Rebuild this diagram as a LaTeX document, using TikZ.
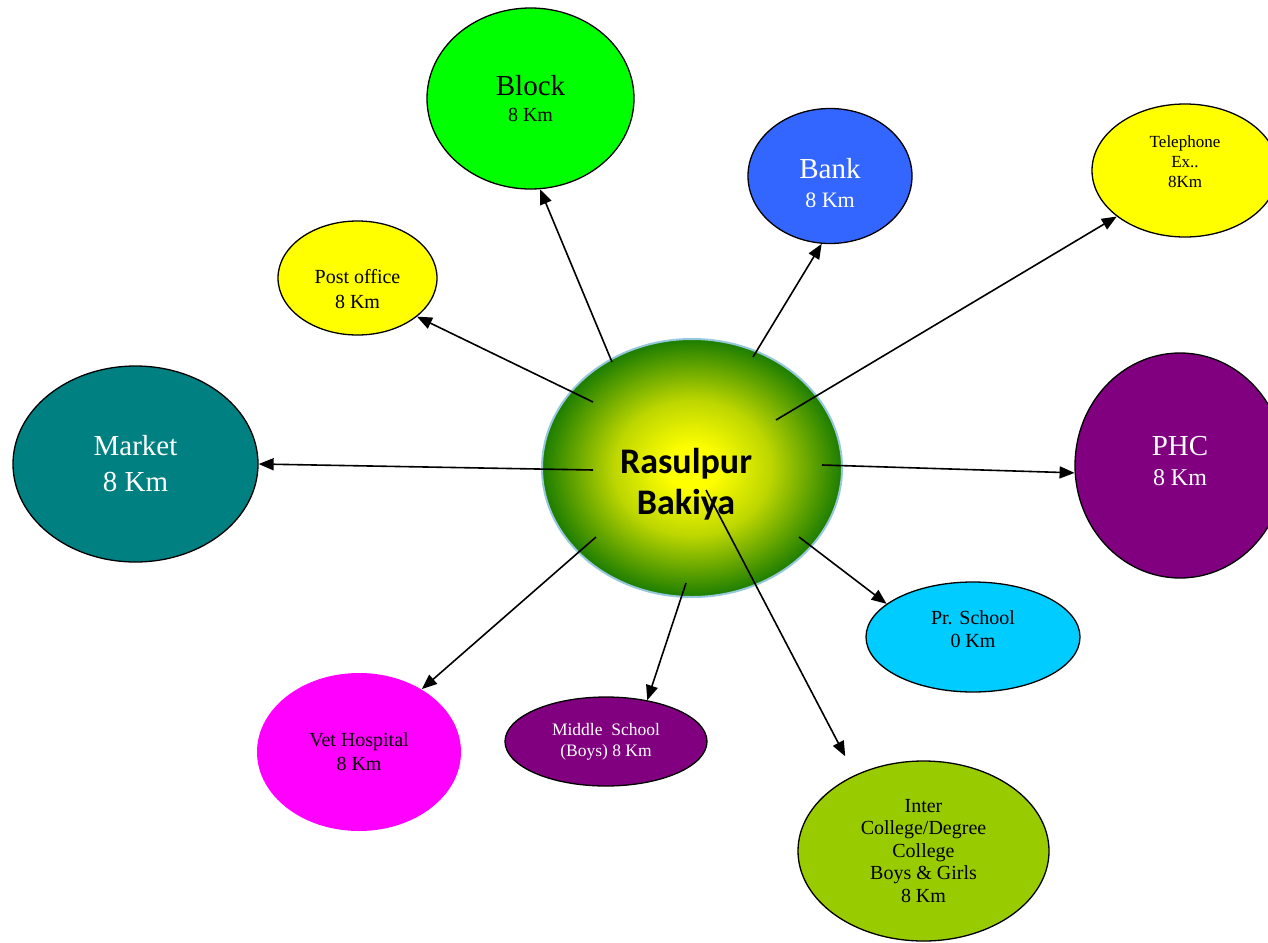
\documentclass[tikz,border=0pt]{standalone}
\usepackage{fontspec}
\setmainfont{Liberation Serif}
\newfontfamily\hubfont{Carlito}
\usetikzlibrary{arrows.meta,shapes.geometric}
\definecolor{Gr}{RGB}{0, 255, 0}
\definecolor{Bl}{RGB}{51, 102, 255}
\definecolor{Ye}{RGB}{255, 255, 0}
\definecolor{Te}{RGB}{0, 128, 128}
\definecolor{Pu}{RGB}{128, 0, 128}
\definecolor{Cy}{RGB}{0, 204, 255}
\definecolor{Ma}{RGB}{255, 0, 255}
\definecolor{Ol}{RGB}{153, 204, 0}
\definecolor{HubG}{RGB}{28, 125, 0}
\definecolor{HubM}{RGB}{190, 215, 0}
\definecolor{HubB}{RGB}{150, 200, 220}
\pgfdeclareradialshading{hubglow}{\pgfpoint{0bp}{0bp}}{color(0bp)=(Ye); color(4bp)=(Ye); color(13bp)=(HubM); color(25bp)=(HubG); color(50bp)=(HubG)}

\tikzset{
  place/.style={ellipse, draw=black, line width=1.3pt, inner sep=0pt, align=center,
    font=\fontsize{20}{24}\selectfont},
  hub/.style={ellipse, draw=HubB, line width=2pt, shading=hubglow, inner sep=0pt},
  link/.style={-{Triangle[length=15pt,width=12pt]}, line width=1.6pt},
}

\begin{document}
\begin{tikzpicture}[x=1pt,y=-1pt]
  \useasboundingbox (0,0) rectangle (1268,942);
  \clip (0,0) rectangle (1268,942);

  %# VILLAGE
  \node[hub, minimum width=300pt, minimum height=258pt] (hub) at (692,468) {};
  \node[align=center, font=\hubfont\bfseries\fontsize{36}{41}\selectfont] (hubname) at (686,484) {Rasulpur\\Bakiya};

  %# FACILITIES
  \node[place, fill=Gr, minimum width=207pt, minimum height=181pt, font=\fontsize{29}{26}\selectfont] (block) at (530.5,98.5)
    {Block\\\fontsize{20}{26}\selectfont 8 Km};
  \node[place, fill=Bl, text=white, minimum width=164pt, minimum height=135pt, font=\fontsize{29}{29}\selectfont,
    text height=62pt, text depth=0pt] (bank) at (830,176)
    {Bank\\\fontsize{22}{29}\selectfont 8 Km};
  \node[place, fill=Ye, minimum width=186pt, minimum height=133pt, font=\fontsize{17}{20}\selectfont,
    text depth=18pt] (tel) at (1185,170.5)
    {Telephone\\Ex..\\8Km};
  \node[place, fill=Ye, minimum width=159pt, minimum height=114pt, font=\fontsize{20}{24.5}\selectfont,
    text height=60pt, text depth=0pt] (post) at (357.5,278)
    {Post office\\8 Km};
  \node[place, fill=Te, text=white, minimum width=245pt, minimum height=196pt, font=\fontsize{29}{36}\selectfont] (market) at (135.5,464)
    {Market\\8 Km};
  \node[place, fill=Pu, text=white, minimum width=210pt, minimum height=225pt, font=\fontsize{29}{30}\selectfont,
    text depth=10pt] (phc) at (1180,465.5)
    {PHC\\\fontsize{24}{30}\selectfont 8 Km};
  \node[place, fill=Cy, minimum width=214pt, minimum height=110pt, font=\fontsize{20}{23}\selectfont,
    text depth=16pt] (pr) at (973,637)
    {Pr. School\\0 Km};
  \node[place, fill=Ma, draw=none, minimum width=204pt, minimum height=158pt] (vet) at (359,752)
    {Vet Hospital\\8 Km};
  \node[place, fill=Pu, text=white, minimum width=202pt, minimum height=89pt, font=\fontsize{17.5}{21}\selectfont] (middle) at (606,741.5)
    {Middle~~School\\(Boys) 8 Km};
  \node[place, fill=Ol, minimum width=251pt, minimum height=180pt, font=\fontsize{20}{22.5}\selectfont] (inter) at (923.5,851)
    {Inter\\College/Degree\\College\\Boys \& Girls\\8 Km};

  %# ARROWS FROM THE VILLAGE
  \coordinate (sBlock) at (612,362);
  \coordinate (sBank) at (753,357);
  \coordinate (sTel) at (776,420);
  \coordinate (sPost) at (593,402);
  \coordinate (sMarket) at (593,470);
  \coordinate (sPhc) at (822,465);
  \coordinate (sPr) at (799,537);
  \coordinate (sVet) at (596,537);
  \coordinate (sMid) at (686,583);
  \coordinate (sInter) at (706,490);

  \draw[link] (sBlock) -- (block.276);
  \draw[link] (sBank) -- (bank.263);
  \draw[link] (sTel) -- (tel.214);
  \draw[link] (sPost) -- (post.327);
  \draw[link] (sMarket) -- (market.0);
  \draw[link] (sPhc) -- (phc.184);
  \draw[link] (sPr) -- (pr.159);
  \draw[link] (sVet) -- (vet.45);
  \draw[link] (sMid) -- (middle.45);
  \draw[link, shorten >=21pt] (sInter) -- (inter.132);
\end{tikzpicture}
\end{document}
